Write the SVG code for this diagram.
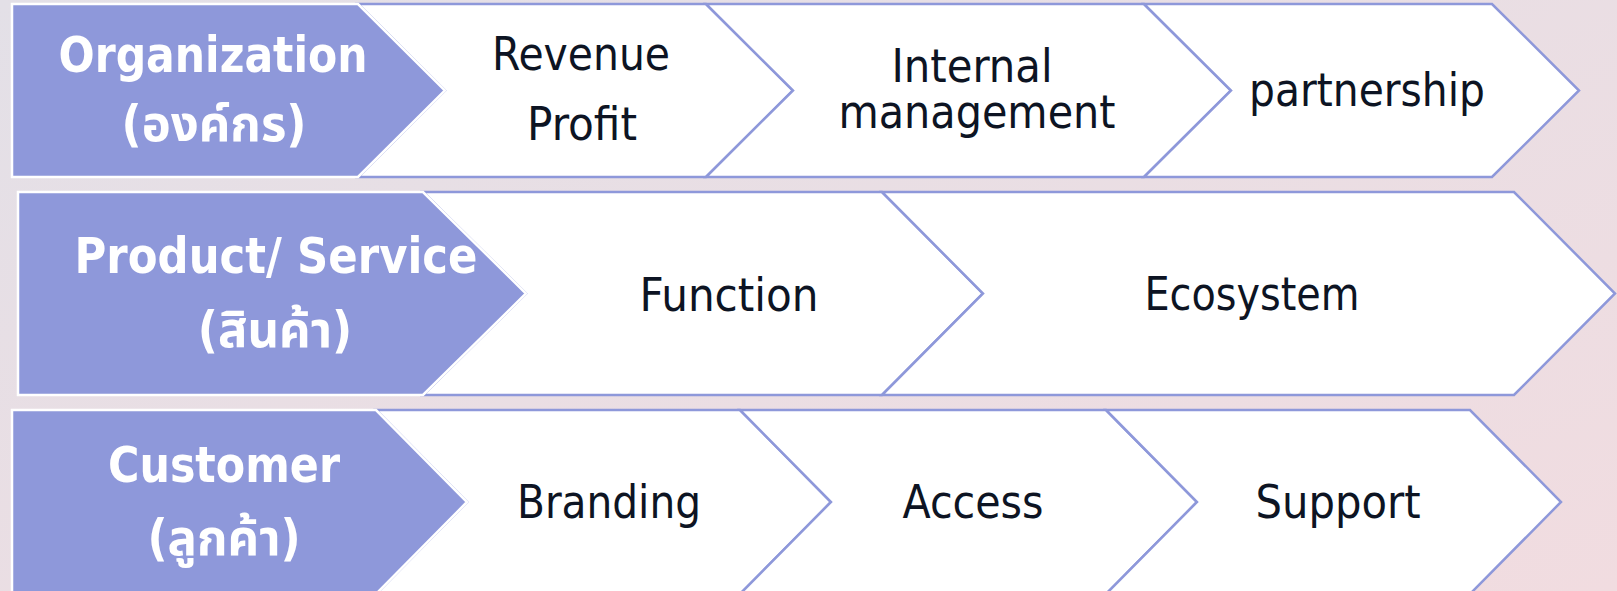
<svg xmlns="http://www.w3.org/2000/svg" width="1617" height="591" viewBox="0 0 1617 591">
<defs>
<linearGradient id="bg" x1="0" y1="0" x2="1" y2="1">
<stop offset="0" stop-color="#E3E0E7"/>
<stop offset="1" stop-color="#F1DCE0"/>
</linearGradient>
<style>
.lab{fill:#8E98DA;stroke:#FFFFFF;stroke-width:2.5}
.chev{fill:#FFFFFF;stroke:#8E98DA;stroke-width:2.5;stroke-linejoin:miter}
.t{font-family:"DejaVu Sans Condensed","DejaVu Sans","Noto Sans Thai",Tahoma,sans-serif;font-stretch:condensed;font-size:47px;fill:#0D1423;text-anchor:middle}
.b{font-family:"DejaVu Sans Condensed","DejaVu Sans","Noto Sans Thai",Tahoma,sans-serif;font-stretch:condensed;font-weight:bold;font-size:49px;fill:#FFFFFF;text-anchor:middle}
</style>
</defs>
<rect x="0" y="0" width="1617" height="591" fill="url(#bg)"/>
<g id="connectors"></g>
<!-- Row 1 -->
<g id="r1c1"><polygon class="chev" points="358,4 706,4 793,90.5 706,177 358,177 445,90.5"/>
<text class="t" x="581" y="70" textLength="178" lengthAdjust="spacingAndGlyphs">Revenue</text>
<text class="t" x="582" y="140" textLength="110" lengthAdjust="spacingAndGlyphs">Profit</text></g>
<g id="r1c2"><polygon class="chev" points="706,4 1144,4 1231,90.5 1144,177 706,177 793,90.5"/>
<text class="t" x="972" y="82" textLength="161" lengthAdjust="spacingAndGlyphs">Internal</text>
<text class="t" x="977" y="128" textLength="277" lengthAdjust="spacingAndGlyphs">management</text></g>
<g id="r1c3"><polygon class="chev" points="1144,4 1492,4 1579,90.5 1492,177 1144,177 1231,90.5"/>
<text class="t" x="1367" y="106" textLength="236" lengthAdjust="spacingAndGlyphs">partnership</text></g>
<g id="r1lab"><polygon class="lab" points="12,4 358,4 445,90.5 358,177 12,177"/>
<text class="b" x="213" y="72" textLength="309" lengthAdjust="spacingAndGlyphs">Organization</text>
<text class="b" x="214" y="141">(องค์กร)</text></g>
<!-- Row 2 -->
<g id="r2c1"><polygon class="chev" points="423,192 882,192 983,293.5 882,395 423,395 526,293.5"/>
<text class="t" x="729" y="311" textLength="179" lengthAdjust="spacingAndGlyphs">Function</text></g>
<g id="r2c2"><polygon class="chev" points="882,192 1514,192 1615,293.5 1514,395 882,395 983,293.5"/>
<text class="t" x="1252" y="310" textLength="215" lengthAdjust="spacingAndGlyphs">Ecosystem</text></g>
<g id="r2lab"><polygon class="lab" points="18,192 423,192 526,293.5 423,395 18,395"/>
<text class="b" x="276" y="273" textLength="403" lengthAdjust="spacingAndGlyphs">Product/ Service</text>
<text class="b" x="275" y="347">(สินค้า)</text></g>
<!-- Row 3 -->
<g id="r3c1"><polygon class="chev" points="376,410 740,410 831,502 740,594 376,594 467,502"/>
<text class="t" x="609" y="518" textLength="184" lengthAdjust="spacingAndGlyphs">Branding</text></g>
<g id="r3c2"><polygon class="chev" points="740,410 1106,410 1197,502 1106,594 740,594 831,502"/>
<text class="t" x="973" y="518" textLength="141" lengthAdjust="spacingAndGlyphs">Access</text></g>
<g id="r3c3"><polygon class="chev" points="1106,410 1470,410 1561,502 1470,594 1106,594 1197,502"/>
<text class="t" x="1338" y="518" textLength="165" lengthAdjust="spacingAndGlyphs">Support</text></g>
<g id="r3lab"><polygon class="lab" points="12,410 376,410 467,502 376,594 12,594"/>
<text class="b" x="224" y="482" textLength="232" lengthAdjust="spacingAndGlyphs">Customer</text>
<text class="b" x="224" y="555">(ลูกค้า)</text></g>
</svg>
